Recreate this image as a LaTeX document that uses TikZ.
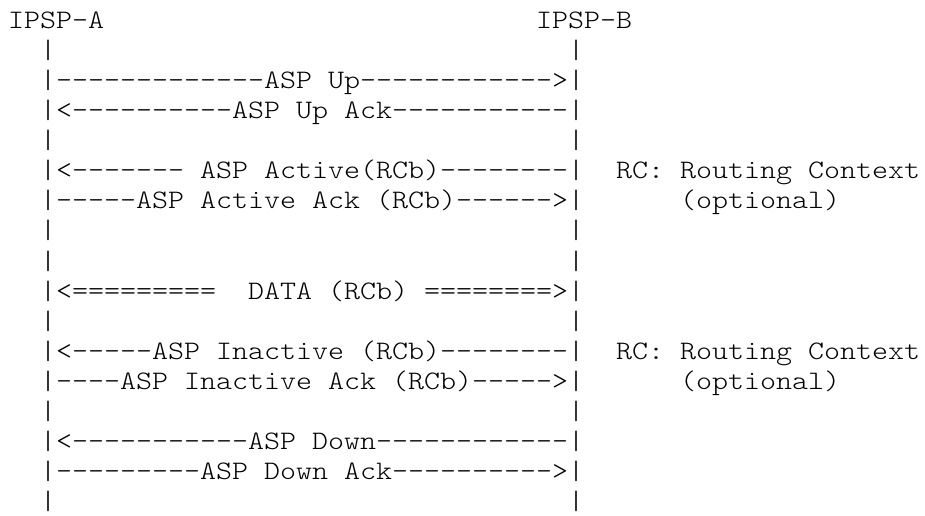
\documentclass[tikz,border=0pt]{standalone}
\usepackage{fontspec}
\setmonofont{lmmonolt10-regular.otf}
\newcommand{\cw}[1]{\scalebox{1.1429}[1]{#1}}
\begin{document}
\begin{tikzpicture}[x=0.75pt,y=-0.75pt,
  txt/.style={anchor=base west, inner sep=0pt, outer sep=0pt,
    font=\ttfamily\fontsize{20}{22}\selectfont, text=black}]
\useasboundingbox (0,0) rectangle (925,516);
% column c -> x = 8+16c ; line k -> baseline y = 28.3+30.1(k-1)
\node[txt] (ha) at (8+16*0, 28.3) {\cw{IPSP-A}};
\node[txt] (hb) at (8+16*33, 28.3) {\cw{IPSP-B}};
% line 2
\node[txt] (a2) at (8+16*2, 28.3+30.1*1) {\cw{|}};
\node[txt] (b2) at (8+16*35, 28.3+30.1*1) {\cw{|}};
% line 3
\node[txt] (m3) at (8+16*2, 28.3+30.1*2) {\cw{|-------------ASP Up------------>|}};
% line 4
\node[txt] (m4) at (8+16*2, 28.3+30.1*3) {\cw{|<----------ASP Up Ack-----------|}};
% line 5
\node[txt] (a5) at (8+16*2, 28.3+30.1*4) {\cw{|}};
\node[txt] (b5) at (8+16*35, 28.3+30.1*4) {\cw{|}};
% line 6
\node[txt] (m6) at (8+16*2, 28.3+30.1*5) {\cw{|<------- ASP Active(RCb)--------|}};
\node[txt] (n6) at (8+16*38, 28.3+30.1*5) {\cw{RC: Routing Context}};
% line 7
\node[txt] (m7) at (8+16*2, 28.3+30.1*6) {\cw{|-----ASP Active Ack (RCb)------>|}};
\node[txt] (n7) at (8+16*42, 28.3+30.1*6) {\cw{(optional)}};
% lines 8, 9
\node[txt] (a8) at (8+16*2, 28.3+30.1*7) {\cw{|}};
\node[txt] (b8) at (8+16*35, 28.3+30.1*7) {\cw{|}};
\node[txt] (a9) at (8+16*2, 28.3+30.1*8) {\cw{|}};
\node[txt] (b9) at (8+16*35, 28.3+30.1*8) {\cw{|}};
% line 10
\node[txt] (m10) at (8+16*2, 28.3+30.1*9) {\cw{|<=========\ \ DATA (RCb) ========>|}};
% line 11
\node[txt] (a11) at (8+16*2, 28.3+30.1*10) {\cw{|}};
\node[txt] (b11) at (8+16*35, 28.3+30.1*10) {\cw{|}};
% line 12
\node[txt] (m12) at (8+16*2, 28.3+30.1*11) {\cw{|<-----ASP Inactive (RCb)--------|}};
\node[txt] (n12) at (8+16*38, 28.3+30.1*11) {\cw{RC: Routing Context}};
% line 13
\node[txt] (m13) at (8+16*2, 28.3+30.1*12) {\cw{|----ASP Inactive Ack (RCb)----->|}};
\node[txt] (n13) at (8+16*42, 28.3+30.1*12) {\cw{(optional)}};
% line 14
\node[txt] (a14) at (8+16*2, 28.3+30.1*13) {\cw{|}};
\node[txt] (b14) at (8+16*35, 28.3+30.1*13) {\cw{|}};
% line 15
\node[txt] (m15) at (8+16*2, 28.3+30.1*14) {\cw{|<-----------ASP Down------------|}};
% line 16
\node[txt] (m16) at (8+16*2, 28.3+30.1*15) {\cw{|---------ASP Down Ack---------->|}};
% line 17
\node[txt] (a17) at (8+16*2, 28.3+30.1*16) {\cw{|}};
\node[txt] (b17) at (8+16*35, 28.3+30.1*16) {\cw{|}};
\end{tikzpicture}
\end{document}
